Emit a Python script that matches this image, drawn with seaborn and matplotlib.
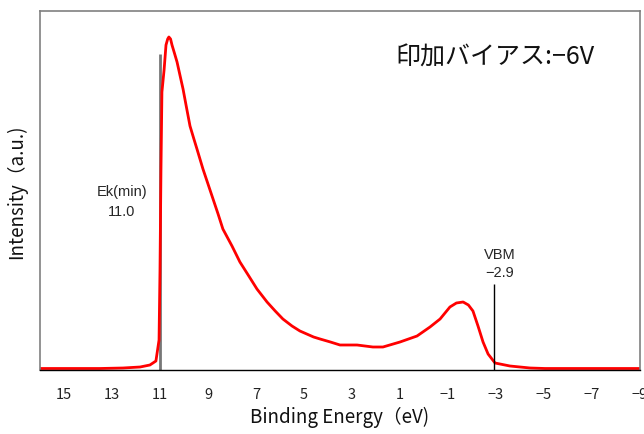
#! /usr/bin/env python
"""
UPS spectrum at -6V applied bias, with Ek(min) and VBM markers
"""

import pandas as pd
import seaborn as sns
import matplotlib.pyplot as plt

# values (binding energy in eV, intensity a.u.)
binding_energy = [
    16.0, 13.5, 12.54, 11.83, 11.42, 11.17, 11.04, 11.0, 10.96, 10.92,
    10.83, 10.75, 10.68, 10.63, 10.56, 10.5, 10.4, 10.29, 10.17, 10.04,
    9.9, 9.75, 9.6, 9.46, 9.21, 9.0, 8.79, 8.58, 8.38, 8.0,
    7.67, 7.3, 6.96, 6.54, 6.2, 5.88, 5.5, 5.17, 4.6, 4.33,
    3.9, 3.5, 2.79, 2.13, 1.71, 1.0, 0.29, -0.25, -0.67, -1.08,
    -1.35, -1.63, -1.85, -2.04, -2.25, -2.46, -2.67, -2.96, -3.58, -4.42,
    -5.04, -9.0,
]
intensity = [
    1.5, 1.5, 2, 3, 5, 9, 30, 100, 200, 278,
    300, 325, 331, 333, 331, 325, 317, 308, 295, 281,
    263, 244, 232, 221, 201, 186, 171, 156, 141, 124,
    108, 94, 81, 68, 59, 51, 44, 39, 33, 31,
    28, 25, 25, 23, 23, 28, 34, 43, 51, 63,
    67, 68, 65, 59, 44, 28, 16, 7, 4, 2,
    1.5, 1.5,
]
ek_min = 11.0
ek_line_top = 316
vbm = -2.9
vbm_line_top = 86
x_ticks = [15, 13, 11, 9, 7, 5, 3, 1, -1, -3, -5, -7, -9]

CJK = ["Noto Sans CJK JP", "DejaVu Sans"]


def run() -> None:
    df = pd.DataFrame({"Binding Energy": binding_energy, "Intensity": intensity})

    sns.set_style("white")
    plt.rcParams["font.family"] = CJK

    fig = plt.figure(figsize=(6.44, 4.35), dpi=100)
    ax = fig.add_axes([40 / 644, 64 / 435, 600 / 644, 359 / 435])

    sns.lineplot(
        data=df, x="Binding Energy", y="Intensity", color="#ff0000",
        linewidth=2, estimator=None, ax=ax,
    )
    ax.vlines(ek_min, 0, ek_line_top, color="#777777", linewidth=2, zorder=1)
    ax.vlines(vbm, 0, vbm_line_top, color="black", linewidth=1, zorder=3)

    ax.set_xlim(16, -9)
    ax.set_ylim(0, 359)
    ax.set_xticks(x_ticks)
    ax.set_xticklabels([str(t).replace("-", "\u2212") for t in x_ticks], fontsize=10.5)
    ax.set_yticks([])
    ax.tick_params(axis="x", direction="in", length=4, width=1, pad=12,
                   colors="black", labelcolor="#222222")

    for side in ["left", "top", "right"]:
        ax.spines[side].set_color("#808080")
        ax.spines[side].set_linewidth(1.2)
    ax.spines["bottom"].set_color("black")
    ax.spines["bottom"].set_linewidth(1)

    ax.set_xlabel("Binding Energy\uff08eV)", fontsize=13.5, labelpad=4, color="#111111")
    ax.set_ylabel("Intensity\uff08a.u.)", fontsize=13.5, labelpad=9, color="#111111")

    label_font = dict(family=["Liberation Sans", "DejaVu Sans"], fontsize=10.5, ha="center", va="center")
    ax.text(12.6, 179, "Ek(min)", **label_font)
    ax.text(12.6, 159, f"{ek_min:.1f}", **label_font)
    ax.text(-3.15, 116, "VBM", **label_font)
    ax.text(-3.15, 98, f"{vbm:.1f}".replace("-", "\u2212"), **label_font)

    ax.text(-2.96, 313, "印加バイアス:\u22126V", fontsize=18, ha="center",
            va="center", color="#111111")

    fig.savefig("out.png", dpi=100)


if __name__ == "__main__":
    run()
